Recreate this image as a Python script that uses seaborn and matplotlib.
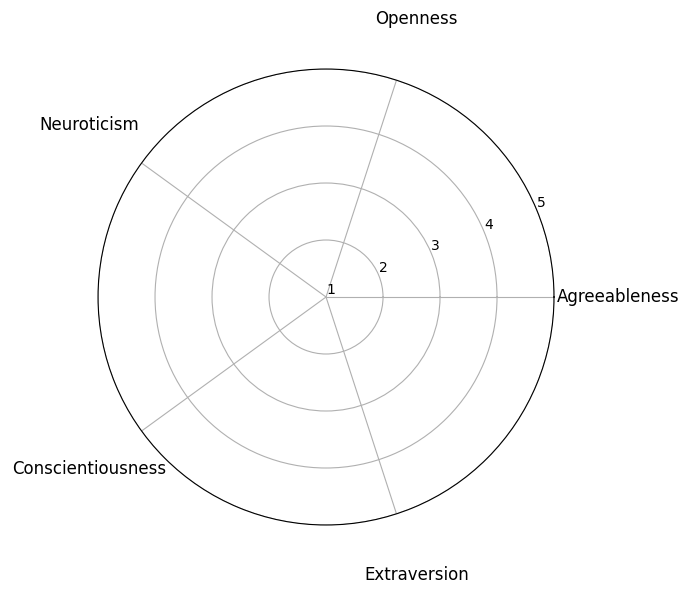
import numpy as np
import matplotlib
matplotlib.use("Agg")
import matplotlib.pyplot as plt
import seaborn as sns

# Big Five traits, counter-clockwise from the right
traits = ["Agreeableness", "Openness", "Neuroticism", "Conscientiousness", "Extraversion"]
radial_ticks = [1, 2, 3, 4, 5]

sns.reset_orig()

angles = np.linspace(0, 2 * np.pi, len(traits), endpoint=False)

fig = plt.figure(figsize=(6.9, 5.97), dpi=100)
ax = fig.add_axes([0.142, 0.1206, 0.661, 0.7638], projection="polar")

ax.set_xticks(angles)
ax.set_xticklabels(traits, fontsize=12)
ax.tick_params(axis="x", pad=36)

ax.set_ylim(radial_ticks[0], radial_ticks[-1])
ax.set_yticks(radial_ticks)
ax.set_yticklabels([str(t) for t in radial_ticks], fontsize=10)

fig.savefig("out.png", dpi=100)
